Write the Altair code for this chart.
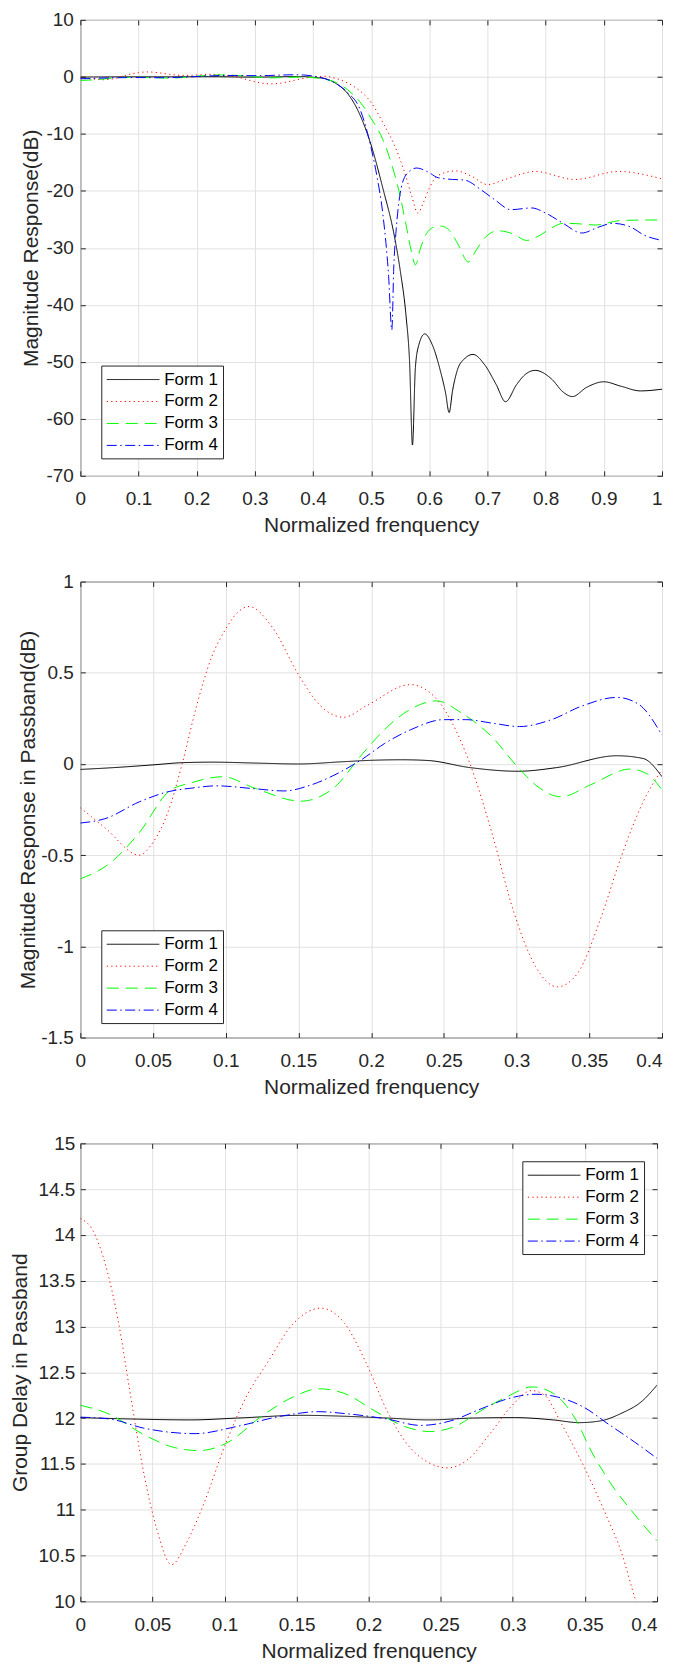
import altair as alt
import pandas as pd

FORMS = ["Form 1", "Form 2", "Form 3", "Form 4"]
COLORS = ["#000000", "#ff0000", "#00ff00", "#0000ff"]
DASHES = [[1, 0], [1.2, 3.3], [12, 7], [10, 3.5, 1.5, 3.5]]

# ---- Passband magnitude (dB), x = 0 .. 0.4 (panel 2, also start of panel 1)
PB_F1_X = [0, 0.023, 0.05, 0.07, 0.091, 0.12, 0.15, 0.18, 0.2, 0.221, 0.239, 0.268, 0.301, 0.3275, 0.369, 0.387, 0.4]
PB_F1_Y = [-0.03, -0.02, -0.005, 0.007, 0.01, 0.005, 0.0, 0.012, 0.02, 0.023, 0.019, -0.02, -0.04, -0.02, 0.045, 0.03, -0.07]
PB_F2_X = [0, 0.017, 0.0405, 0.05, 0.06, 0.07, 0.08, 0.09, 0.1, 0.108, 0.116, 0.132, 0.15, 0.165, 0.181, 0.197, 0.227,
           0.245, 0.256, 0.268, 0.283, 0.298, 0.313, 0.328, 0.342, 0.357, 0.372, 0.387, 0.4]
PB_F2_Y = [-0.24, -0.35, -0.5, -0.43, -0.27, 0.0, 0.32, 0.58, 0.74, 0.83, 0.863, 0.75, 0.49, 0.32, 0.256, 0.32, 0.435,
           0.356, 0.22, 0.0, -0.377, -0.81, -1.11, -1.222, -1.147, -0.865, -0.508, -0.208, -0.03]
PB_F3_X = [0, 0.02, 0.0405, 0.061, 0.076, 0.098, 0.12, 0.1515, 0.174, 0.194, 0.209, 0.227, 0.245, 0.262, 0.283, 0.301,
           0.316, 0.3305, 0.351, 0.378, 0.39, 0.4]
PB_F3_Y = [-0.63, -0.546, -0.377, -0.15, -0.104, -0.07, -0.133, -0.204, -0.133, 0.055, 0.187, 0.3, 0.346, 0.28, 0.149,
           -0.019, -0.133, -0.18, -0.114, -0.028, -0.056, -0.142]
PB_F4_X = [0, 0.017, 0.0405, 0.061, 0.076, 0.094, 0.12, 0.14, 0.159, 0.18, 0.194, 0.209, 0.227, 0.25, 0.265, 0.283,
           0.302, 0.324, 0.345, 0.369, 0.384, 0.4]
PB_F4_Y = [-0.324, -0.30, -0.208, -0.151, -0.133, -0.12, -0.136, -0.148, -0.114, -0.039, 0.027, 0.111, 0.187, 0.243,
           0.243, 0.224, 0.205, 0.243, 0.318, 0.365, 0.327, 0.158]

# ---- Transition / stopband magnitude (dB), x > 0.4 (panel 1)
SB_F1_X = [0.42, 0.44, 0.46, 0.48, 0.5, 0.52, 0.54, 0.55, 0.56, 0.566, 0.571, 0.576, 0.582, 0.592, 0.605, 0.62, 0.628,
           0.634, 0.64, 0.648, 0.66, 0.675, 0.695, 0.715, 0.731, 0.75, 0.765, 0.782, 0.81, 0.83, 0.846, 0.87, 0.9,
           0.93, 0.963, 1.0]
SB_F1_Y = [-0.3, -1.2, -3.0, -6.5, -12, -19.5, -28, -34, -42, -50, -64.6, -51, -47, -45.1, -47, -52, -55.5,
           -58.9, -55, -51.5, -49.5, -48.7, -50.5, -54, -57, -54, -52.2, -51.5, -53, -55.3, -56.1, -54.5, -53.5,
           -54.3, -55.1, -54.8]
SB_F2_X = [0.42, 0.44, 0.46, 0.48, 0.5, 0.52, 0.54, 0.555, 0.57, 0.58, 0.59, 0.60, 0.615, 0.645, 0.672, 0.70, 0.73,
           0.782, 0.85, 0.925, 1.0]
SB_F2_Y = [0.1, -0.3, -1.1, -2.4, -4.5, -8, -12, -16, -21, -23.9, -22, -19.5, -17.3, -16.5, -17.4, -18.9, -18,
           -16.6, -18, -16.6, -17.9]
SB_F3_X = [0.42, 0.44, 0.46, 0.48, 0.5, 0.52, 0.54, 0.55, 0.56, 0.57, 0.576, 0.585, 0.595, 0.61, 0.621, 0.635, 0.65,
           0.667, 0.68, 0.695, 0.718, 0.745, 0.767, 0.79, 0.81, 0.83, 0.86, 0.885, 0.93, 1.0]
SB_F3_Y = [-0.4, -1.0, -2.3, -4.3, -7.3, -11, -17, -21, -26, -31, -33, -30, -27.5, -26.3, -26.2, -27, -29.5,
           -32.5, -30.5, -28.3, -27, -27.6, -28.7, -27.8, -26.5, -25.7, -25.8, -26, -25.2, -25.1]
SB_F4_X = [0.42, 0.44, 0.46, 0.48, 0.5, 0.51, 0.52, 0.53, 0.5355, 0.539, 0.543, 0.549, 0.56, 0.578, 0.598, 0.615,
           0.64, 0.66, 0.69, 0.713, 0.74, 0.776, 0.80, 0.83, 0.862, 0.89, 0.915, 0.945, 0.97, 1.0]
SB_F4_Y = [-0.3, -1.2, -2.8, -5.5, -12.5, -17.5, -24, -35, -44.4, -33, -26.8, -21, -17.2, -16.0, -16.7, -17.7,
           -18.0, -18.1, -19.9, -21.6, -23.3, -23.0, -23.9, -25.7, -27.4, -26.4, -25.7, -26.3, -27.8, -28.7]

# ---- Group delay in passband (panel 3)
GD_F1_X = [0, 0.035, 0.0766, 0.109, 0.1536, 0.183, 0.213, 0.242, 0.272, 0.301, 0.328, 0.346, 0.361, 0.375, 0.39, 0.4]
GD_F1_Y = [12.005, 11.99, 11.98, 12.0, 12.03, 12.02, 12.0, 11.98, 12.0, 12.005, 11.98, 11.95, 11.97, 12.05, 12.19, 12.36]
GD_F2_X = [0, 0.0086, 0.0175, 0.0263, 0.035, 0.044, 0.053, 0.0633, 0.0737, 0.0855, 0.1003, 0.115, 0.13, 0.1476,
           0.1669, 0.183, 0.198, 0.2127, 0.2275, 0.242, 0.255, 0.269, 0.2837, 0.2985, 0.313, 0.322, 0.334, 0.349,
           0.3636, 0.3754, 0.385, 0.395, 0.4]
GD_F2_Y = [14.18, 14.05, 13.67, 13.06, 12.23, 11.40, 10.79, 10.40, 10.64, 11.06, 11.70, 12.23, 12.61, 13.03,
           13.20, 13.04, 12.61, 12.08, 11.70, 11.51, 11.456, 11.55, 11.82, 12.12, 12.30, 12.25, 11.93, 11.48,
           10.98, 10.53, 10.02, 9.6, 9.4]
GD_F3_X = [0, 0.0204, 0.044, 0.0648, 0.0825, 0.103, 0.124, 0.1476, 0.1654, 0.183, 0.204, 0.2246, 0.2423, 0.26,
           0.2778, 0.2956, 0.3133, 0.328, 0.343, 0.3547, 0.3695, 0.3843, 0.4]
GD_F3_Y = [12.14, 12.04, 11.82, 11.68, 11.645, 11.74, 12.0, 12.23, 12.32, 12.27, 12.08, 11.91, 11.853, 11.91,
           12.08, 12.23, 12.34, 12.27, 12.0, 11.63, 11.25, 10.95, 10.66]
GD_F4_X = [0, 0.0204, 0.044, 0.0796, 0.109, 0.139, 0.1654, 0.183, 0.2127, 0.236, 0.257, 0.2778, 0.2985, 0.316,
           0.331, 0.349, 0.3666, 0.3843, 0.4]
GD_F4_Y = [12.01, 11.99, 11.89, 11.83, 11.91, 12.02, 12.07, 12.05, 11.99, 11.92, 11.97, 12.10, 12.22, 12.26,
           12.23, 12.12, 11.93, 11.74, 11.56]

# ---- Axis ticks
X1_TICKS = [0, 0.1, 0.2, 0.3, 0.4, 0.5, 0.6, 0.7, 0.8, 0.9, 1]
Y1_TICKS = [-70, -60, -50, -40, -30, -20, -10, 0, 10]
X23_TICKS = [0, 0.05, 0.1, 0.15, 0.2, 0.25, 0.3, 0.35, 0.4]
Y2_TICKS = [-1.5, -1, -0.5, 0, 0.5, 1]
Y3_TICKS = [10, 10.5, 11, 11.5, 12, 12.5, 13, 13.5, 14, 14.5, 15]

FONT = "Liberation Sans"
INK = "#262626"


def long_df(xs, ys):
    rows = []
    for form, xa, ya in zip(FORMS, xs, ys):
        for a, b in zip(xa, ya):
            rows.append({"form": form, "f": a, "v": b})
    return pd.DataFrame(rows)


df1 = long_df([PB_F1_X + SB_F1_X, PB_F2_X + SB_F2_X, PB_F3_X + SB_F3_X, PB_F4_X + SB_F4_X],
              [PB_F1_Y + SB_F1_Y, PB_F2_Y + SB_F2_Y, PB_F3_Y + SB_F3_Y, PB_F4_Y + SB_F4_Y])
df2 = long_df([PB_F1_X, PB_F2_X, PB_F3_X, PB_F4_X], [PB_F1_Y, PB_F2_Y, PB_F3_Y, PB_F4_Y])
df3 = long_df([GD_F1_X, GD_F2_X, GD_F3_X, GD_F4_X], [GD_F1_Y, GD_F2_Y, GD_F3_Y, GD_F4_Y])

LABEL_EXPR = "'' + datum.value"
# legend sample line: a custom symbol path drawn to the right of the (17px) symbol cell
LEGEND_LINE = "M-1,0H5.2"


def last_right(threshold):
    # the last x label at the right edge is right-aligned so that it stays on the page
    return {"condition": {"test": "datum.value >= %s" % threshold, "value": "right"}, "value": "center"}


def panel(df, xdom, xvals, ydom, yvals, ytitle, w, h, lx, ly, ylabpad, ytitlepad, last):
    xscale = alt.Scale(domain=xdom, nice=False, zero=False)
    yscale = alt.Scale(domain=ydom, nice=False, zero=False)
    leg = alt.Legend(title=None, orient="none", legendX=lx, legendY=ly, padding=5,
                     strokeColor=INK, fillColor="white", labelFont=FONT, labelFontSize=17,
                     labelColor="#000000", symbolType=LEGEND_LINE, symbolSize=289,
                     symbolStrokeWidth=1, rowPadding=5, labelOffset=40, cornerRadius=0)
    lines = alt.Chart(df).mark_line(strokeWidth=1, clip=True, interpolate="monotone").encode(
        x=alt.X("f:Q", scale=xscale,
                axis=alt.Axis(values=xvals, title="Normalized frenquency", orient="bottom", offset=-5,
                              tickSize=5, domain=False, grid=True, labelPadding=14, titlePadding=6,
                              labelFlush=False, labelOverlap=False, labelExpr=LABEL_EXPR,
                              labelAlign=last_right(last))),
        y=alt.Y("v:Q", scale=yscale,
                axis=alt.Axis(values=yvals, title=ytitle, orient="left", offset=-5, tickSize=5,
                              domain=False, grid=True, labelPadding=ylabpad, titlePadding=ytitlepad,
                              labelOverlap=False, labelExpr=LABEL_EXPR)),
        color=alt.Color("form:N", scale=alt.Scale(domain=FORMS, range=COLORS), legend=leg),
        strokeDash=alt.StrokeDash("form:N", scale=alt.Scale(domain=FORMS, range=DASHES), legend=leg),
    )
    ticks = alt.Chart(df).mark_line(opacity=0).encode(
        x=alt.X("f:Q", scale=xscale,
                axis=alt.Axis(values=xvals, orient="top", offset=-5, tickSize=5, domain=False,
                              grid=False, labels=False, title=None, minExtent=0, maxExtent=0)),
        y=alt.Y("v:Q", scale=yscale,
                axis=alt.Axis(values=yvals, orient="right", offset=-5, tickSize=5, domain=False,
                              grid=False, labels=False, title=None, minExtent=0, maxExtent=0)),
        detail="form:N",
    )
    return alt.layer(lines, ticks).resolve_axis(x="independent", y="independent").properties(width=w, height=h)


p1 = panel(df1, [0, 1], X1_TICKS, [-70, 10], Y1_TICKS, "Magnitude Response(dB)",
           583, 457, 21, 346.5, 7, 4, 0.99)
p2 = panel(df2, [0, 0.4], X23_TICKS, [-1.5, 1], Y2_TICKS, "Magnitude Response in Passband(dB)",
           583, 457, 21, 349.5, 7, 2.5, 0.39)
p3 = panel(df3, [0, 0.4], X23_TICKS, [10, 15], Y3_TICKS, "Group Delay in Passband",
           578, 459, 443, 18, 5.5, 7, 0.39)

chart = alt.vconcat(p1, p2, p3, spacing=35).resolve_legend(
    color="independent", strokeDash="independent"
).properties(
    padding={"left": 1.5, "top": 0, "right": 2, "bottom": 0},
    background="white",
).configure_view(stroke=INK, strokeWidth=1).configure_axis(
    labelFont=FONT, titleFont=FONT, labelFontSize=19, titleFontSize=21, labelColor=INK, titleColor=INK,
    tickColor=INK, gridColor="#e1e1e1", gridWidth=1, titleFontWeight="normal",
)

chart.save("out.html", embed_options={"renderer": "svg", "actions": False})
